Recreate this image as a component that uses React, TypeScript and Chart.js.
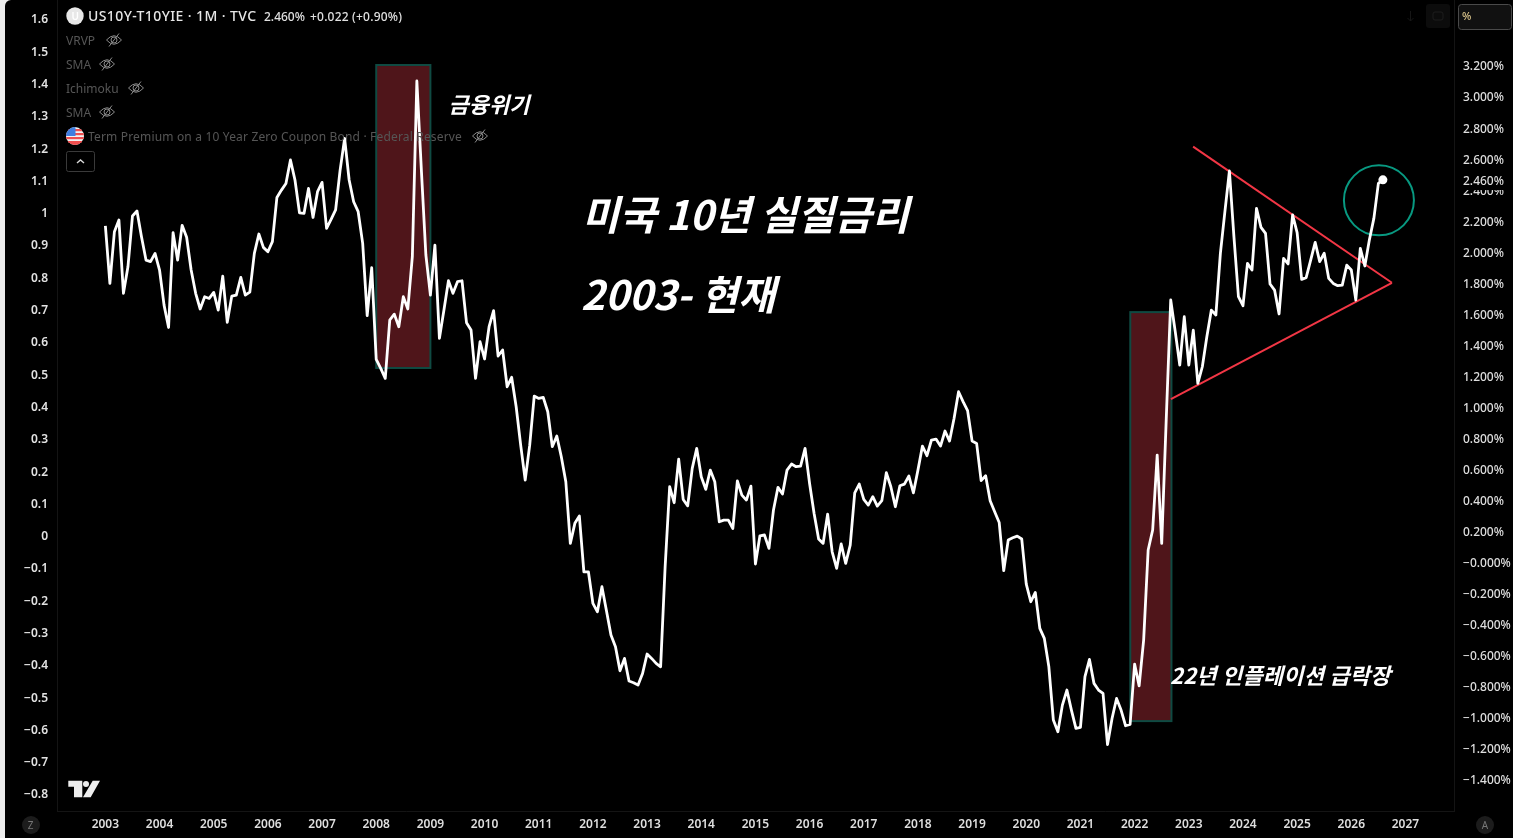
import React, { useEffect, useRef } from "react";
import { Chart, registerables } from "chart.js";

Chart.register(...registerables);

const startYear = 2003;
const realYield = [
  2.163, 1.793, 2.126, 2.201, 1.729, 1.9, 2.227, 2.259, 2.094, 1.943, 1.933, 1.986,
  1.879, 1.653, 1.509, 2.12, 1.943, 2.167, 2.09, 1.879, 1.729, 1.628, 1.707, 1.696,
  1.735, 1.621, 1.84, 1.542, 1.711, 1.718, 1.832, 1.718, 1.737, 1.986, 2.111, 2.025,
  1.997, 2.062, 2.347, 2.394, 2.437, 2.588, 2.459, 2.248, 2.244, 2.405, 2.218, 2.384,
  2.444, 2.148, 2.205, 2.266, 2.523, 2.727, 2.459, 2.319, 2.255, 2.051, 1.585, 1.894,
  1.303, 1.245, 1.181, 1.557, 1.595, 1.514, 1.707, 1.628, 1.965, 3.097, 2.523, 1.976,
  1.718, 2.04, 1.439, 1.621, 1.81, 1.729, 1.804, 1.81, 1.54, 1.493, 1.181, 1.417,
  1.306, 1.514, 1.617, 1.325, 1.364, 1.127, 1.188, 0.998, 0.751, 0.526, 0.751, 1.067,
  1.052, 1.059, 0.966, 0.741, 0.81, 0.676, 0.515, 0.118, 0.247, 0.294, -0.065, -0.065,
  -0.269, -0.323, -0.161, -0.316, -0.473, -0.548, -0.703, -0.623, -0.769, -0.78, -0.795, -0.72,
  -0.595, -0.623, -0.655, -0.677, -0.032, 0.483, 0.38, 0.661, 0.401, 0.36, 0.601, 0.73,
  0.547, 0.466, 0.59, 0.515, 0.257, 0.268, 0.268, 0.214, 0.52, 0.429, 0.397, 0.487,
  -0.015, 0.167, 0.172, 0.086, 0.333, 0.479, 0.436, 0.59, 0.629, 0.612, 0.616, 0.73,
  0.504, 0.311, 0.146, 0.118, 0.307, 0.064, -0.043, 0.114, -0.011, 0.107, 0.444, 0.5,
  0.401, 0.365, 0.419, 0.358, 0.393, 0.573, 0.483, 0.354, 0.489, 0.5, 0.552, 0.444,
  0.59, 0.745, 0.683, 0.784, 0.79, 0.745, 0.842, 0.777, 0.923, 1.095, 1.031, 0.973,
  0.777, 0.762, 0.522, 0.554, 0.393, 0.322, 0.253, -0.058, 0.139, 0.154, 0.165, 0.146,
  -0.144, -0.258, -0.198, -0.43, -0.494, -0.677, -1.02, -1.096, -0.924, -0.827, -0.956, -1.074,
  -1.068, -0.741, -0.63, -0.784, -0.827, -0.849, -1.178, -1.01, -0.881, -0.956, -1.057, -1.049,
  -0.66, -0.8, -0.505, 0.075, 0.204, 0.687, 0.118, 0.913, 1.686, 1.482, 1.267, 1.578,
  1.267, 1.492, 1.149, 1.256, 1.449, 1.621, 1.589, 1.987, 2.255, 2.517, 2.094, 1.707,
  1.649, 1.922, 1.879, 2.276, 2.154, 2.115, 1.789, 1.75, 1.596, 1.954, 1.918, 2.234,
  2.12, 1.819, 1.83, 1.943, 2.057, 1.933, 1.987, 1.825, 1.793, 1.778, 1.782, 1.911,
  1.879, 1.686, 2.019, 1.905, 2.072, 2.212, 2.437, 2.46,
];

const yearTicks = [2003, 2004, 2005, 2006, 2007, 2008, 2009, 2010, 2011, 2012, 2013, 2014, 2015, 2016, 2017, 2018, 2019, 2020, 2021, 2022, 2023, 2024, 2025, 2026, 2027];
const leftTicks = [1.6, 1.5, 1.4, 1.3, 1.2, 1.1, 1, 0.9, 0.8, 0.7, 0.6, 0.5, 0.4, 0.3, 0.2, 0.1, 0, -0.1, -0.2, -0.3, -0.4, -0.5, -0.6, -0.7, -0.8];
const rightTicks = [3.2, 3, 2.8, 2.6, 2.4, 2.2, 2, 1.8, 1.6, 1.4, 1.2, 1, 0.8, 0.6, 0.4, 0.2, 0, -0.2, -0.4, -0.6, -0.8, -1, -1.2, -1.4];
const lastPriceTick = 2.46;

const crisisBand2008 = { from: 2008.0, to: 2009.0, high: 3.2, low: 1.248 };
const crisisBand2022 = { from: 2021.92, to: 2022.68, high: 1.608, low: -1.027 };
const upperTrend = [{ x: 2023.08, y: 2.674 }, { x: 2026.75, y: 1.797 }];
const lowerTrend = [{ x: 2022.67, y: 1.048 }, { x: 2026.75, y: 1.797 }];
const breakoutCircle = [{ x: 2026.51, y: 2.328 }];

const indicatorRows = [
  { name: "VRVP", y: 40, eye: 114 },
  { name: "SMA", y: 64, eye: 107 },
  { name: "Ichimoku", y: 88, eye: 136 },
  { name: "SMA", y: 112, eye: 107 },
];

const UI = '"Noto Sans", "Noto Sans CJK KR", sans-serif';
const KR = '"Noto Sans CJK KR", "Noto Sans", sans-serif';

function eyeOff(ctx: CanvasRenderingContext2D, cx: number, cy: number) {
  ctx.save();
  ctx.strokeStyle = "#8a8a8a";
  ctx.lineWidth = 1;
  ctx.beginPath();
  ctx.moveTo(cx - 7.5, cy);
  ctx.quadraticCurveTo(cx, cy - 8.5, cx + 7.5, cy);
  ctx.quadraticCurveTo(cx, cy + 8.5, cx - 7.5, cy);
  ctx.moveTo(cx + 3, cy);
  ctx.arc(cx, cy, 3, 0, Math.PI * 2);
  ctx.moveTo(cx - 5, cy + 6.5);
  ctx.lineTo(cx + 5, cy - 6.5);
  ctx.stroke();
  ctx.restore();
}

function text(ctx: CanvasRenderingContext2D, s: string, x: number, y: number, font: string, color: string, spacing = "0px") {
  ctx.font = font;
  ctx.fillStyle = color;
  (ctx as any).letterSpacing = spacing;
  ctx.textAlign = "left";
  ctx.textBaseline = "middle";
  ctx.fillText(s, x, y);
  (ctx as any).letterSpacing = "0px";
}

const backdrop = {
  id: "backdrop",
  beforeDraw(chart: any) {
    const ctx = chart.ctx as CanvasRenderingContext2D;
    ctx.save();
    ctx.fillStyle = "#ededed";
    ctx.fillRect(0, 0, chart.width, chart.height);
    ctx.fillStyle = "#000";
    ctx.beginPath();
    ctx.roundRect(5, 0, chart.width - 5, chart.height, [6, 0, 0, 0]);
    ctx.fill();
    ctx.restore();
  },
};

const bands = {
  id: "bands",
  beforeDatasetsDraw(chart: any) {
    const ctx = chart.ctx as CanvasRenderingContext2D;
    const { x, yR } = chart.scales;
    ctx.save();
    for (const b of [crisisBand2008, crisisBand2022]) {
      const l = x.getPixelForValue(b.from);
      const r = x.getPixelForValue(b.to);
      const t = yR.getPixelForValue(b.high);
      const bt = yR.getPixelForValue(b.low);
      ctx.fillStyle = "#4f151a";
      ctx.fillRect(l, t, r - l, bt - t);
      ctx.strokeStyle = "#0f4a42";
      ctx.lineWidth = 2;
      ctx.strokeRect(l, t, r - l, bt - t);
    }
    ctx.restore();
  },
};

const overlay = {
  id: "overlay",
  afterDatasetsDraw(chart: any) {
    const ctx = chart.ctx as CanvasRenderingContext2D;
    ctx.save();
    // Annotations
    const big = `italic 700 40.5px ${KR}`;
    const mid = `italic 700 22px ${KR}`;
    text(ctx, "미국 10년 실질금리", 582, 215, big, "#fff");
    text(ctx, "2003- 현재", 581, 295, big, "#fff");
    text(ctx, "금융위기", 448.5, 105, mid, "#fff");
    text(ctx, "22년 인플레이션 급락장", 1170, 676, mid, "#fff", "0.2px");

    // Header
    ctx.fillStyle = "#e8e8e8";
    ctx.beginPath();
    ctx.arc(75, 16, 8.7, 0, Math.PI * 2);
    ctx.fill();
    text(ctx, "U", 71.5, 17, `600 10px ${UI}`, "#fff");
    text(ctx, "US10Y-T10YIE · 1M · TVC", 88, 17, `500 14px ${UI}`, "#e6e6e6", "0.4px");
    text(ctx, "2.460%", 264, 17.5, `500 12px ${UI}`, "#e0e0e0");
    text(ctx, "+0.022 (+0.90%)", 310, 17.5, `500 12px ${UI}`, "#e0e0e0", "0.2px");

    for (const row of indicatorRows) {
      text(ctx, row.name, 66, row.y + 2, `400 12px ${UI}`, "#565656");
      eyeOff(ctx, row.eye, row.y);
    }

    // Flag
    ctx.save();
    ctx.beginPath();
    ctx.arc(75, 136, 9, 0, Math.PI * 2);
    ctx.clip();
    ctx.fillStyle = "#f2f2f2";
    ctx.fillRect(66, 127, 18, 18);
    ctx.fillStyle = "#f04e4e";
    for (const y of [129, 133, 137, 141]) ctx.fillRect(66, y, 18, 2.2);
    ctx.fillRect(66, 141, 18, 4);
    ctx.fillStyle = "#3f7ee0";
    ctx.fillRect(66, 127, 9.5, 9);
    ctx.restore();
    text(ctx, "Term Premium on a 10 Year Zero Coupon Bond · Federal Reserve", 88, 138, `400 12px ${UI}`, "#565656", "0.17px");
    eyeOff(ctx, 480, 136);

    // Collapse button
    ctx.strokeStyle = "#3a3a3a";
    ctx.lineWidth = 1;
    ctx.beginPath();
    ctx.roundRect(66.5, 151.5, 28, 20, 2);
    ctx.stroke();
    ctx.strokeStyle = "#d8d8d8";
    ctx.lineWidth = 1.4;
    ctx.beginPath();
    ctx.moveTo(77, 163);
    ctx.lineTo(80.5, 160);
    ctx.lineTo(84, 163);
    ctx.stroke();

    // Logo
    ctx.fillStyle = "#eeeeee";
    ctx.beginPath();
    ctx.moveTo(68.3, 780.7);
    ctx.lineTo(82.3, 780.7);
    ctx.lineTo(82.3, 797.3);
    ctx.lineTo(74, 797.3);
    ctx.lineTo(74, 786.7);
    ctx.lineTo(68.3, 786.7);
    ctx.closePath();
    ctx.moveTo(92.7, 780.7);
    ctx.lineTo(100, 780.7);
    ctx.lineTo(90.7, 797.3);
    ctx.lineTo(83, 797.3);
    ctx.closePath();
    ctx.fill();
    ctx.beginPath();
    ctx.arc(86, 784, 3, 0, Math.PI * 2);
    ctx.fill();

    // Corner badges
    for (const [label, cx] of [["Z", 31], ["A", 1485]] as [string, number][]) {
      ctx.fillStyle = "#1c1c1c";
      ctx.beginPath();
      ctx.arc(cx, 825, 9, 0, Math.PI * 2);
      ctx.fill();
      text(ctx, label, cx - 3.2, 826, `400 10px ${UI}`, "#777");
    }

    // Top-right controls
    ctx.strokeStyle = "#161616";
    ctx.lineWidth = 1;
    ctx.beginPath();
    ctx.moveTo(1410.5, 11);
    ctx.lineTo(1410.5, 21);
    ctx.moveTo(1407.5, 18);
    ctx.lineTo(1410.5, 21);
    ctx.lineTo(1413.5, 18);
    ctx.stroke();
    ctx.fillStyle = "#0c0c0c";
    ctx.beginPath();
    ctx.roundRect(1426, 4, 24, 24, 3);
    ctx.fill();
    ctx.strokeStyle = "#1d1d1d";
    ctx.beginPath();
    ctx.roundRect(1433, 12, 10, 8, 2);
    ctx.stroke();
    ctx.fillStyle = "#111";
    ctx.strokeStyle = "#4a4a4a";
    ctx.beginPath();
    ctx.roundRect(1458.5, 4.5, 53, 25, 3);
    ctx.fill();
    ctx.stroke();
    text(ctx, "%", 1462, 17, `500 11px ${UI}`, "#d9c38a");
    ctx.restore();
  },
};

const fixedSize = (prop: "width" | "height", size: number) => (scale: any) => {
  scale[prop] = size;
  scale.paddingTop = scale.paddingBottom = scale.paddingLeft = scale.paddingRight = 0;
};

const tickFont = { family: UI, size: 12, weight: 600 as any };

export default function App() {
  const ref = useRef<HTMLCanvasElement>(null);
  useEffect(() => {
    const chart = new Chart(ref.current as HTMLCanvasElement, {
      type: "line",
      data: {
        datasets: [
          {
            label: "US10Y-T10YIE",
            yAxisID: "yR",
            data: realYield.map((y, i) => ({ x: startYear + i / 12, y })),
            borderColor: "#ffffff",
            backgroundColor: "#ffffff",
            borderWidth: 2.8,
            borderJoinStyle: "round",
            tension: 0,
            pointRadius: (c: any) => (c.dataIndex === realYield.length - 1 ? 4.5 : 0),
            pointBorderWidth: 0,
            order: 1,
          },
          { label: "upper", yAxisID: "yR", data: upperTrend, borderColor: "#f23645", borderWidth: 2, pointRadius: 0, order: 2 },
          { label: "lower", yAxisID: "yR", data: lowerTrend, borderColor: "#f23645", borderWidth: 2, pointRadius: 0, order: 2 },
          {
            label: "breakout",
            yAxisID: "yR",
            data: breakoutCircle,
            showLine: false,
            pointStyle: "circle",
            pointRadius: 35,
            pointBorderWidth: 2,
            pointBorderColor: "#089981",
            pointBackgroundColor: "rgba(0,0,0,0)",
            order: 3,
          },
        ] as any,
      },
      options: {
        animation: false,
        responsive: false,
        devicePixelRatio: 1,
        layout: { padding: 0, autoPadding: false },
        plugins: { legend: { display: false }, tooltip: { enabled: false } },
        scales: {
          x: {
            type: "linear",
            position: "bottom",
            min: 2002.107,
            max: 2027.896,
            afterFit: fixedSize("height", 27),
            afterBuildTicks: (s: any) => {
              s.ticks = yearTicks.map((value) => ({ value }));
            },
            grid: { display: false, drawTicks: false },
            border: { display: true, color: "#141414" },
            ticks: { autoSkip: false, maxRotation: 0, padding: 6, color: "#dedede", font: tickFont, callback: (v: any) => String(v) },
          },
          yL: {
            type: "linear",
            position: "left",
            min: -0.8557,
            max: 1.6557,
            afterFit: fixedSize("width", 57),
            afterBuildTicks: (s: any) => {
              s.ticks = leftTicks.map((value) => ({ value }));
            },
            grid: { display: false, drawTicks: false },
            border: { display: true, color: "#141414" },
            ticks: {
              autoSkip: false,
              padding: 9,
              labelOffset: 2,
              color: "#e2e2e2",
              font: tickFont,
              callback: (v: any) => (v < 0 ? "\u2212" : "") + String(Math.abs(v)),
            },
          },
          yR: {
            type: "linear",
            position: "right",
            min: -1.6062,
            max: 3.6188,
            afterFit: fixedSize("width", 59),
            afterBuildTicks: (s: any) => {
              s.ticks = [...rightTicks, lastPriceTick].map((value) => ({ value }));
            },
            grid: { display: false, drawTicks: false },
            border: { display: true, color: "#141414" },
            ticks: {
              autoSkip: false,
              padding: 9,
              labelOffset: 2,
              color: "#dedede",
              font: { family: UI, size: 12, weight: 500 as any },
              showLabelBackdrop: (c: any) => c.tick && c.tick.value === lastPriceTick,
              backdropColor: "#000",
              backdropPadding: 1,
              callback: (v: any) => (v <= 0 ? "\u2212" : "") + Math.abs(v).toFixed(3) + "%",
            } as any,
          },
        },
      } as any,
      plugins: [backdrop, bands, overlay],
    });
    return () => chart.destroy();
  }, []);
  return (
    <canvas
      ref={ref}
      width={1513}
      height={838}
      style={{ position: "fixed", left: 0, top: 0, width: 1513, height: 838, display: "block" }}
    />
  );
}
